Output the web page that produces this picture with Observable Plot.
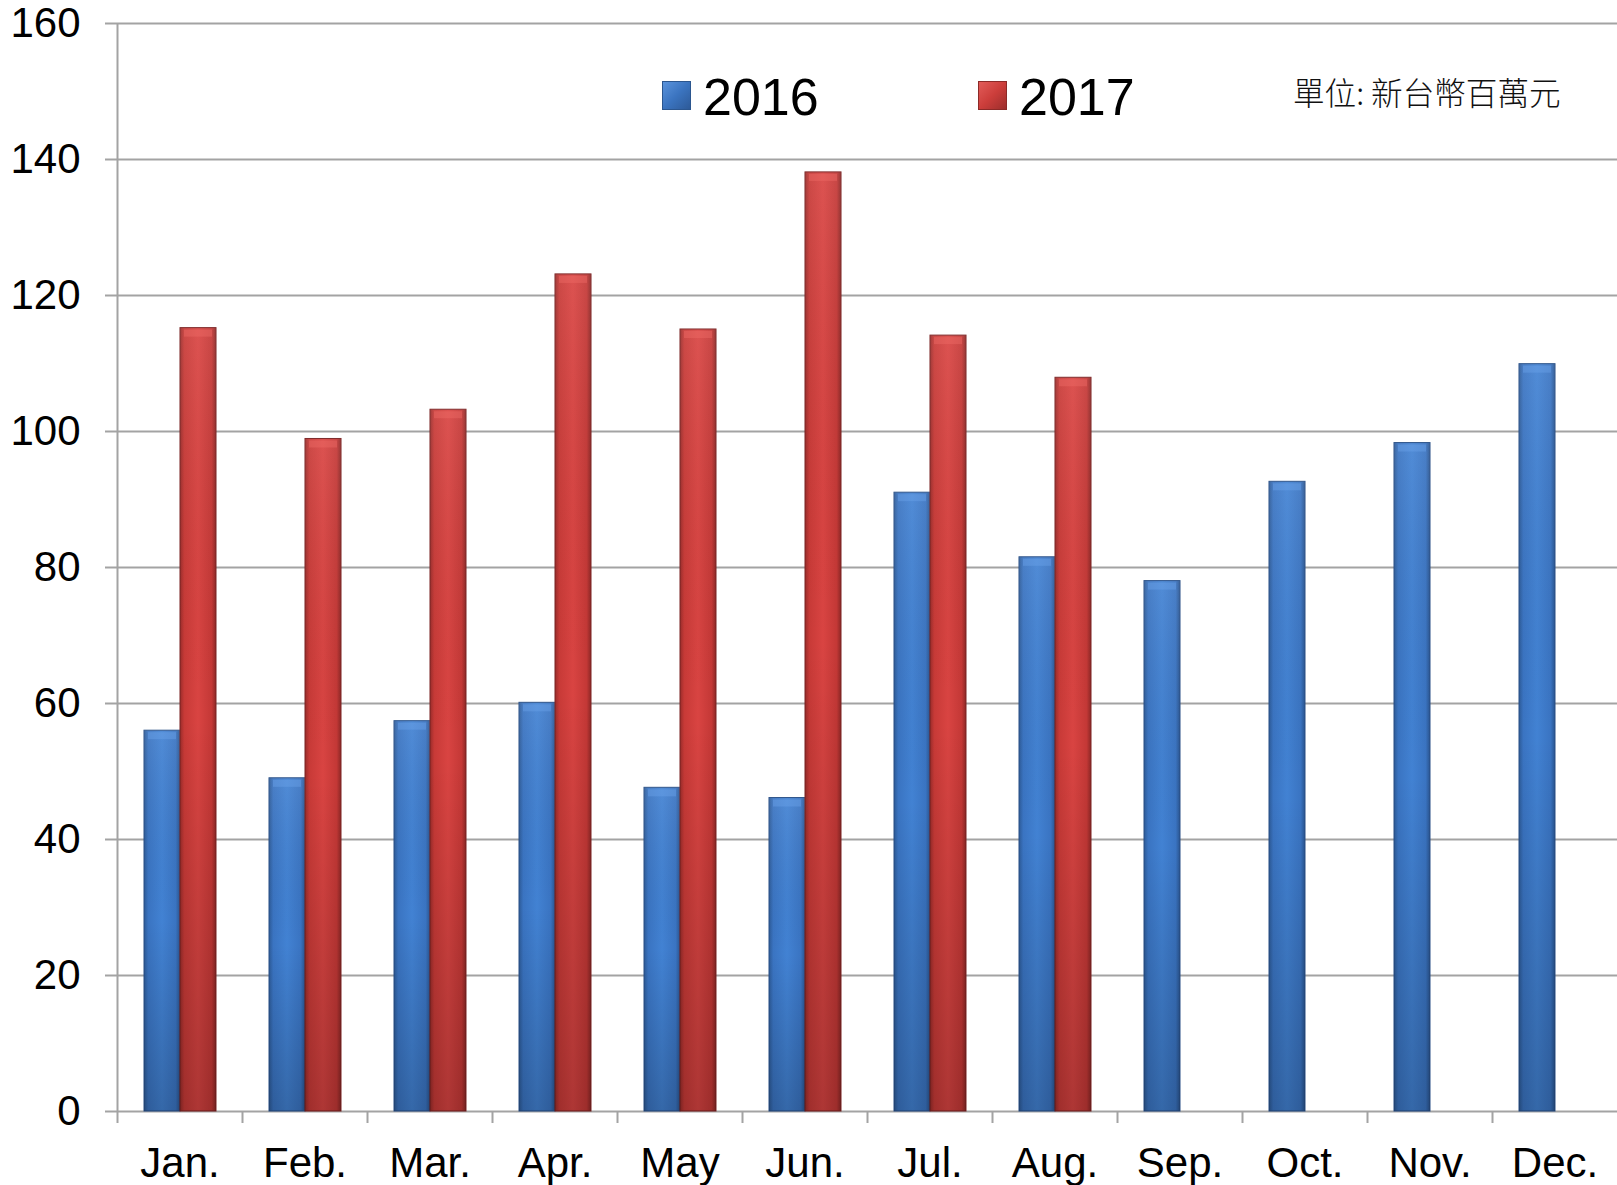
<!DOCTYPE html>
<html>
<head>
<meta charset="utf-8">
<script src="https://cdn.jsdelivr.net/npm/d3@7"></script>
<script src="https://cdn.jsdelivr.net/npm/@observablehq/plot@0.6"></script>
<style>
  html, body { margin: 0; padding: 0; background: #fff; }
  #wrap { position: relative; width: 1617px; height: 1185px; font-family: "Liberation Sans", Arial, sans-serif; }
  #wrap svg { display: block; }
  .legend { position: absolute; top: 0; left: 0; width: 1617px; height: 1px; }
  .sw { position: absolute; width: 29px; height: 29px; box-sizing: border-box; }
  .lt { position: absolute; font-size: 52px; line-height: 1; color: #000; }
  .unit { position: absolute; left: 1293px; top: 76px; font-family: "Noto Sans CJK TC", "Noto Sans CJK SC", sans-serif; font-size: 31.6px; font-weight: 300; line-height: 1; color: #111; white-space: nowrap; }
</style>
</head>
<body>
<div id="wrap"></div>
<script>
// ---- data ----
const months = ["Jan.", "Feb.", "Mar.", "Apr.", "May", "Jun.", "Jul.", "Aug.", "Sep.", "Oct.", "Nov.", "Dec."];
const years = ["2016", "2017"];
const values2016 = [56.0, 49.0, 57.4, 60.1, 47.6, 46.1, 91.0, 81.5, 78.0, 92.6, 98.3, 109.9];
const values2017 = [115.2, 98.9, 103.2, 123.1, 115.0, 138.1, 114.1, 107.9, null, null, null, null];
const yTicks = [0, 20, 40, 60, 80, 100, 120, 140, 160];
const unitLabel = "單位: 新台幣百萬元";

const rows = months.flatMap((m, i) => [
  {month: m, year: "2016", value: values2016[i]},
  {month: m, year: "2017", value: values2017[i]}
]).filter(d => d.value != null);

const W = 1617, H = 1185, ML = 117, MR = 0, MT = 23, MB = 74;
const step = (W - ML - MR) / months.length;
const grey = "#a3a3a3";

const chart = Plot.plot({
  width: W, height: H,
  marginLeft: ML, marginRight: MR, marginTop: MT, marginBottom: MB,
  style: {fontFamily: "'Liberation Sans', Arial, sans-serif", background: "white", color: "black"},
  fx: {domain: months, padding: 0, axis: null, label: null},
  x: {domain: years, paddingInner: 0, paddingOuter: 0.712, axis: null},
  y: {domain: [0, 160], axis: null},
  marks: [
    Plot.gridY({ticks: yTicks, stroke: grey, strokeOpacity: 1, strokeWidth: 2}),
    Plot.axisY({ticks: yTicks, tickSize: 12, tickPadding: 25, stroke: grey, strokeWidth: 2, fontSize: 42, fill: "black", label: null}),
    Plot.gridFx({ticks: [months[0]], dx: -step / 2, stroke: grey, strokeOpacity: 1, strokeWidth: 2}),
    Plot.axisFx({anchor: "bottom", ticks: months, tickSize: 12, tickFormat: () => "", dx: -step / 2, stroke: grey, strokeWidth: 2, label: null}),
    Plot.axisFx({anchor: "bottom", ticks: months, tickSize: 0, tickPadding: 36, fontSize: 42, fill: "black", label: null}),
    Plot.barY(rows.filter(d => d.year === "2016"), {fx: "month", x: "year", y: "value", fill: "url(#g2016)", stroke: "#284f86", strokeWidth: 1}),
    Plot.barY(rows.filter(d => d.year === "2017"), {fx: "month", x: "year", y: "value", fill: "url(#g2017)", stroke: "#7a2222", strokeWidth: 1}),
    Plot.barY(rows, {fx: "month", x: "year", y: "value", fill: "url(#shade)"}),
    // soft light bevel cap at the top of each bar
    Plot.tickY(rows.filter(d => d.year === "2016"), {fx: "month", x: "year", y: "value", dy: 5, insetLeft: 4, insetRight: 4, stroke: "#6aa2e8", strokeWidth: 7, strokeOpacity: 0.45}),
    Plot.tickY(rows.filter(d => d.year === "2017"), {fx: "month", x: "year", y: "value", dy: 5, insetLeft: 4, insetRight: 4, stroke: "#ee6a66", strokeWidth: 7, strokeOpacity: 0.45})
  ]
});

chart.insertAdjacentHTML("afterbegin", `
<defs>
  <linearGradient id="g2016" x1="0" x2="1" y1="0" y2="0">
    <stop offset="0" stop-color="#2d5b98"/>
    <stop offset="0.12" stop-color="#3a74c2"/>
    <stop offset="0.5" stop-color="#4282d3"/>
    <stop offset="0.88" stop-color="#3a74c2"/>
    <stop offset="1" stop-color="#2a5590"/>
  </linearGradient>
  <linearGradient id="g2017" x1="0" x2="1" y1="0" y2="0">
    <stop offset="0" stop-color="#9a2c2a"/>
    <stop offset="0.12" stop-color="#c83a37"/>
    <stop offset="0.5" stop-color="#d94442"/>
    <stop offset="0.88" stop-color="#c43836"/>
    <stop offset="1" stop-color="#8e2826"/>
  </linearGradient>
  <linearGradient id="shade" x1="0" x2="0" y1="0" y2="1">
    <stop offset="0" stop-color="#ffffff" stop-opacity="0.08"/>
    <stop offset="0.5" stop-color="#000000" stop-opacity="0.0"/>
    <stop offset="1" stop-color="#000000" stop-opacity="0.2"/>
  </linearGradient>
</defs>`);

const wrap = document.getElementById("wrap");
wrap.appendChild(chart);

const legend = document.createElement("div");
legend.className = "legend";
legend.innerHTML = `
  <div class="sw" style="left:662px;top:81px;background:linear-gradient(135deg,#5a93dc,#3b74c0 50%,#2d5a98);border:1px solid #2b568f"></div>
  <div class="lt" style="left:703px;top:71px">${years[0]}</div>
  <div class="sw" style="left:978px;top:81px;background:linear-gradient(135deg,#e25c59,#cc3e3b 50%,#9c2e2c);border:1px solid #8c2a28"></div>
  <div class="lt" style="left:1019px;top:71px">${years[1]}</div>
  <div class="unit">${unitLabel}</div>`;
wrap.appendChild(legend);
</script>
</body>
</html>
